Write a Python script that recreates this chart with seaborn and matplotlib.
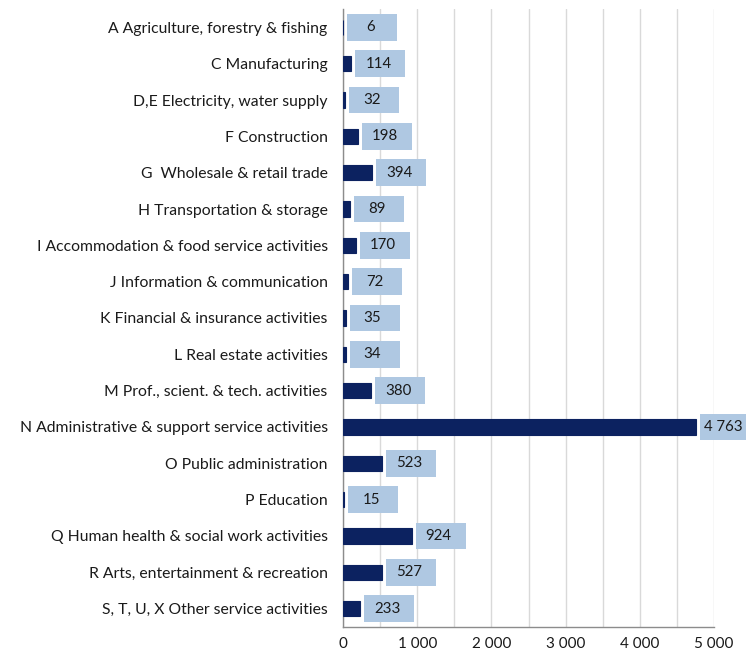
import matplotlib
matplotlib.use("Agg")
import matplotlib.pyplot as plt
import seaborn as sns
import pandas as pd
from matplotlib.patches import Rectangle
from matplotlib.ticker import FuncFormatter, MultipleLocator

categories = [
    "A Agriculture, forestry & fishing",
    "C Manufacturing",
    "D,E Electricity, water supply",
    "F Construction",
    "G  Wholesale & retail trade",
    "H Transportation & storage",
    "I Accommodation & food service activities",
    "J Information & communication",
    "K Financial & insurance activities",
    "L Real estate activities",
    "M Prof., scient. & tech. activities",
    "N Administrative & support service activities",
    "O Public administration",
    "P Education",
    "Q Human health & social work activities",
    "R Arts, entertainment & recreation",
    "S, T, U, X Other service activities",
]
values = [6, 114, 32, 198, 394, 89, 170, 72, 35, 34, 380, 4763, 523, 15, 924, 527, 233]

df = pd.DataFrame({"category": categories, "value": values})

sns.set_style("white")
plt.rcParams["font.family"] = ["Lato", "DejaVu Sans"]

dark = "#0c2260"
light = "#afc8e2"
grey = "#8c8c8c"

fig = plt.figure(figsize=(7.46, 6.57), dpi=100)
ax = fig.add_axes([343 / 746, 0.046, 371 / 746, 0.94])

sns.barplot(data=df, x="value", y="category", orient="h", color=dark,
            width=0.42, saturation=1, edgecolor=dark, linewidth=0.8,
            ax=ax, zorder=3)

ax.set_xlim(0, 5000)
ax.set_ylim(len(categories) - 0.5, -0.5)

# value labels in boxes of fixed width next to each bar
units_per_px = 5000 / 371
gap = 4 * units_per_px
box_w = 50 * units_per_px
for i, v in enumerate(values):
    ax.add_patch(Rectangle((v + gap, i - 0.37), box_w, 0.74, facecolor=light,
                           edgecolor="none", zorder=4, clip_on=False))
    label = f"{v:,}".replace(",", " ")
    ax.text(v + gap + box_w / 2 - 2 * units_per_px, i, label, ha="center", va="center",
            fontsize=10.8, color="#1a1a1a", zorder=5, clip_on=False)

ax.xaxis.set_major_locator(MultipleLocator(1000))
ax.xaxis.set_minor_locator(MultipleLocator(500))
ax.xaxis.set_major_formatter(FuncFormatter(lambda x, p: f"{int(x):,}".replace(",", " ")))
ax.grid(axis="x", which="both", color="#d9d9d9", linewidth=1, zorder=0)
ax.grid(axis="y", visible=False)

ax.set_yticks([i + 0.5 for i in range(-1, len(categories))], minor=True)
ax.tick_params(axis="y", which="major", length=0, labelsize=11.3, pad=11, labelcolor="#1a1a1a")
ax.tick_params(axis="y", which="minor", length=4, color=grey, direction="out")
ax.tick_params(axis="x", which="major", length=4, color=grey, direction="out",
               labelsize=11, labelcolor="#1a1a1a")
ax.tick_params(axis="x", which="minor", length=0)

for s in ["top", "right"]:
    ax.spines[s].set_visible(False)
for s in ["left", "bottom"]:
    ax.spines[s].set_color(grey)
    ax.spines[s].set_linewidth(1)

ax.set_xlabel("")
ax.set_ylabel("")

fig.savefig("out.png", dpi=100)
